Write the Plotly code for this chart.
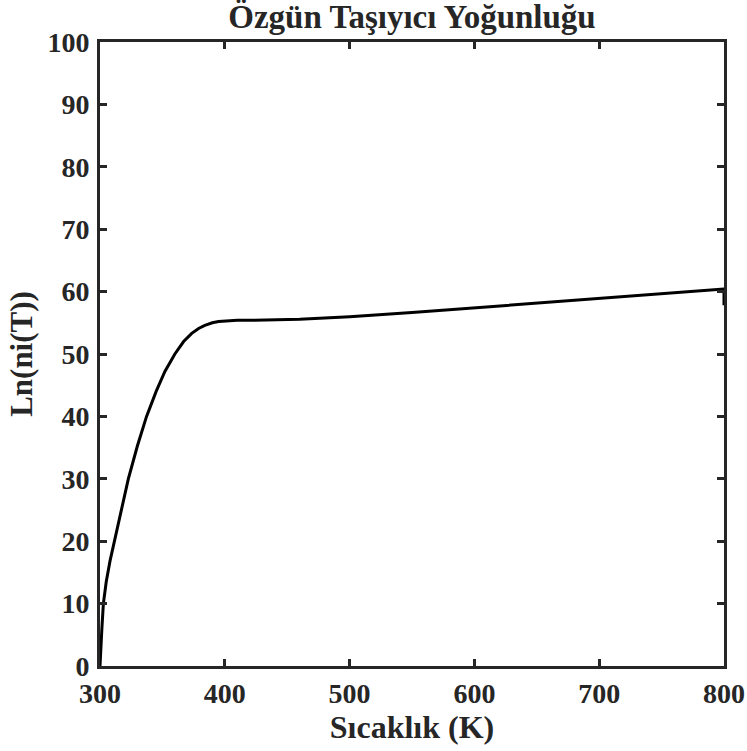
import plotly.graph_objects as go

# temperature (K) and ln of intrinsic carrier density
temperature = [300, 300.3, 300.8, 301.5, 302.7, 305, 308, 311.5, 316, 322.7, 330, 337.3,
               345, 352, 360, 367, 373.5, 379, 384, 390, 395, 400, 410, 420, 440, 460,
               480, 500, 550, 600, 650, 700, 750, 800, 800]
ln_ni = [0, 1.5, 3.1, 6, 10, 13.5, 16.8, 20, 24.3, 30, 35.3, 40,
         44.0, 47.2, 50, 52, 53.3, 54.1, 54.6, 55.0, 55.2, 55.3, 55.4, 55.4, 55.45, 55.55,
         55.75, 55.95, 56.65, 57.4, 58.1, 58.8, 59.6, 60.4, 57.8]

x_ticks = [300, 400, 500, 600, 700, 800]
y_ticks = [0, 10, 20, 30, 40, 50, 60, 70, 80, 90, 100]

def serif(size):
    return dict(family="Liberation Serif", size=size, color="#262626", weight="bold")

fig = go.Figure()
fig.add_trace(go.Scatter(x=temperature, y=ln_ni, mode='lines',
                         line=dict(color='black', width=3), showlegend=False))

axis_style = dict(showline=True, linewidth=3, linecolor='#262626', mirror='ticks',
                  ticks='inside', ticklen=7, tickwidth=3, tickcolor='#262626',
                  showgrid=False, zeroline=False, tickfont=serif(28), automargin=False)

fig.update_xaxes(range=[300, 800], tickvals=x_ticks,
                 title=dict(text='Sıcaklık (K)', font=serif(32), standoff=2), **axis_style)
fig.update_yaxes(range=[0, 100], tickvals=y_ticks, ticklabelstandoff=2,
                 title=dict(text='Ln(ni(T))', font=serif(31), standoff=6), **axis_style)

fig.update_layout(
    width=747, height=751, autosize=False,
    margin=dict(l=100, r=23, t=42, b=85),
    plot_bgcolor='white', paper_bgcolor='white',
    title=dict(text='Özgün Taşıyıcı Yoğunluğu', font=serif(33), x=0.5, xref='paper',
               y=1 - 16 / 751, yref='container', yanchor='middle', xanchor='center'),
)

# drop the default body margin so the figure sits at the window's corner
fig.write_html("out.html", config={'displayModeBar': False},
               post_script="document.body.style.margin='0';")
